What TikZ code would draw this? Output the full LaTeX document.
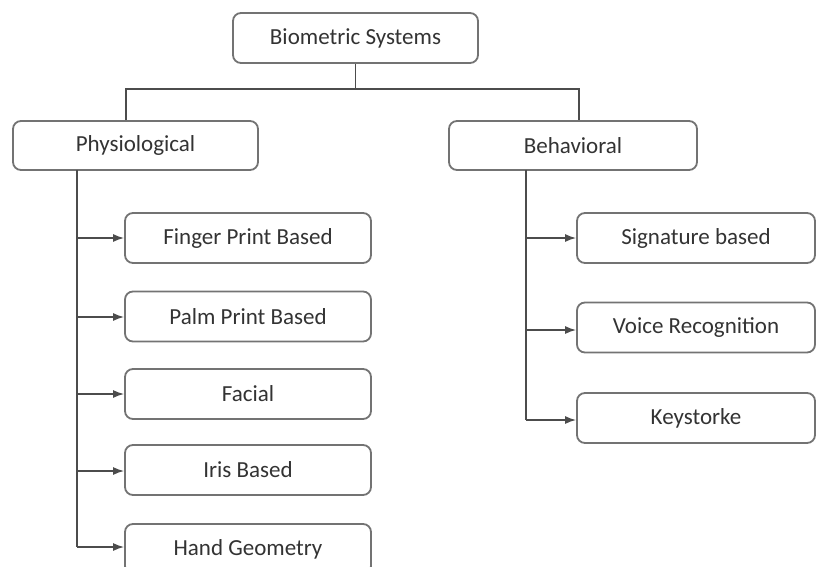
\documentclass[tikz,border=0pt]{standalone}
\usepackage{fontspec}
\setmainfont{Carlito}
\usetikzlibrary{arrows.meta}

\tikzstyle{myBox} = [draw=black!55, fill=white, line width=1.8pt,
    rectangle, rounded corners=8pt, text=black!80,
    font=\fontsize{23}{28}\selectfont, inner sep=0pt]
\tikzstyle{myBoxL} = [myBox, minimum width=246pt, minimum height=50pt]
\tikzstyle{myBoxR} = [myBox, minimum width=238pt, minimum height=50pt]
\tikzstyle{myLine} = [draw=black!70, line width=1.5pt]
\tikzstyle{myArrow} = [myLine, -{Latex[length=11pt,width=8pt]}]

\begin{document}
\begin{tikzpicture}[x=1pt, y=-1pt]
\useasboundingbox (0,0) rectangle (817,567);

\node[myBox, minimum width=245pt, minimum height=50pt] (Biometric) at (355.5,38) {Biometric Systems};
\node[myBox, minimum width=245pt, minimum height=49pt] (Physiological) at (135.5,145.5) {Physiological};
\node[myBox, minimum width=248pt, minimum height=49pt] (Behavioral) at (573,145.5) {Behavioral};
  \node[myBoxL] (FingerPrint) at (248,238) {Finger Print Based};
  \node[myBoxL] (PalmPrint) at (248,316.5) {Palm Print Based};
  \node[myBoxL] (Facial) at (248,394) {Facial};
  \node[myBoxL] (Iris) at (248,470) {Iris Based};
  \node[myBoxL] (HandGeometry) at (248,549) {Hand Geometry};
  \node[myBoxR] (Signature) at (696,238) {Signature based};
  \node[myBoxR] (Voice) at (696,327.5) {Voice Recognition};
  \node[myBoxR] (Keystroke) at (696,418) {Keystorke};

\coordinate (Split) at (355.5,89);
\coordinate (PhysTrunk) at (77,170);
\coordinate (BehTrunk) at (526,170);

\draw[myLine] (Biometric.south) -- (Split);
\draw[myLine] ([xshift=-9.5pt]Physiological.north) |- (Split) -| ([xshift=6pt]Behavioral.north);

\draw[myLine] (PhysTrunk) -- (PhysTrunk |- 0,547);
\foreach \child/\ypos in {FingerPrint/238, PalmPrint/317, Facial/394, Iris/471, HandGeometry/547}
  \draw[myArrow] (PhysTrunk |- 0,\ypos) -- (\child.west |- 0,\ypos);

\draw[myLine] (BehTrunk) -- (BehTrunk |- 0,420);
\foreach \child/\ypos in {Signature/238, Voice/330, Keystroke/420}
  \draw[myArrow] (BehTrunk |- 0,\ypos) -- (\child.west |- 0,\ypos);
\end{tikzpicture}
\end{document}
